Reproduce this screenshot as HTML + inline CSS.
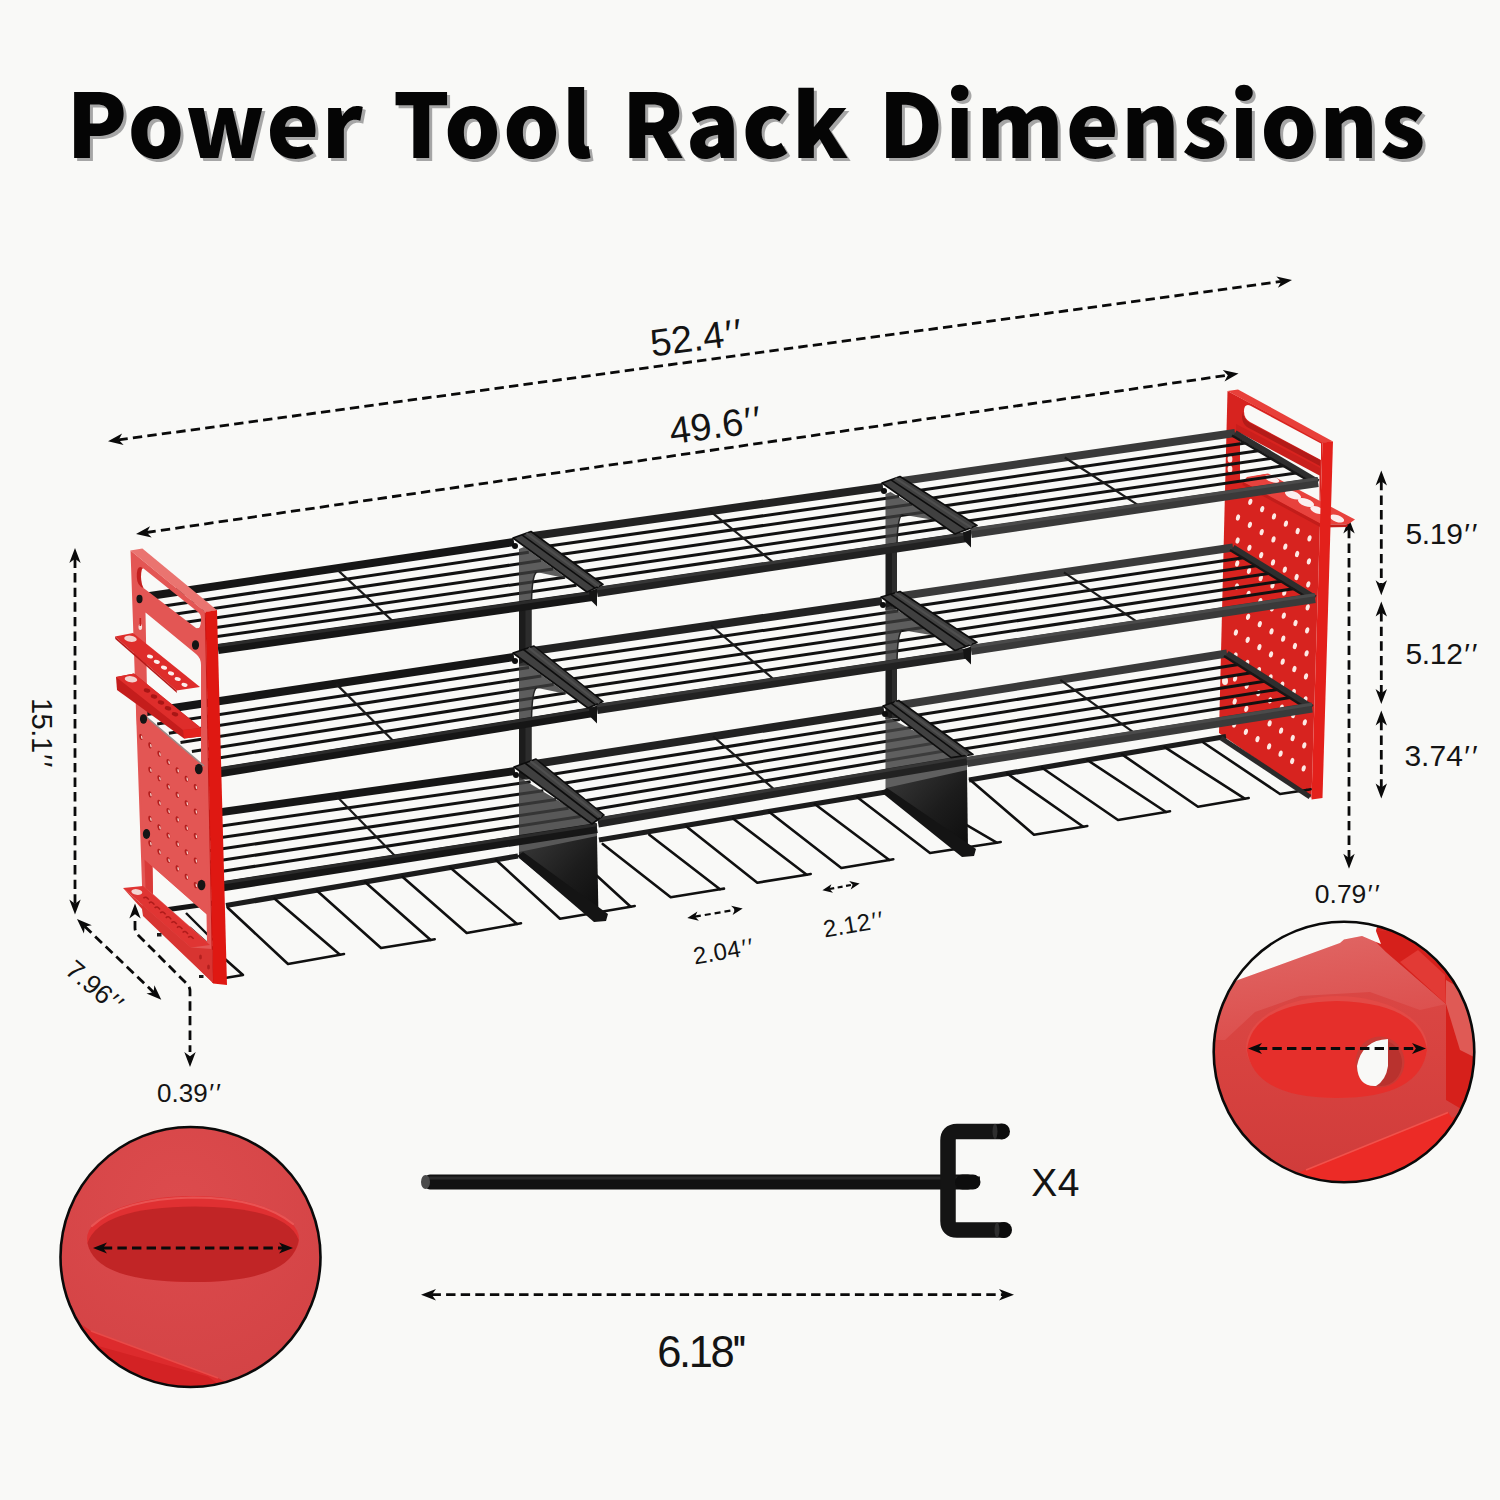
<!DOCTYPE html>
<html lang="en"><head><meta charset="utf-8"><title>Power Tool Rack Dimensions</title>
<style>
html,body{margin:0;padding:0;background:#f9f9f7;}
body{width:1500px;height:1500px;overflow:hidden;position:relative;font-family:"Liberation Sans",sans-serif;}
svg{position:absolute;left:0;top:0;display:block}
.t{font-family:"Noto Sans CJK SC","Liberation Sans",sans-serif;font-weight:900;}
.d{font-family:"Liberation Sans",sans-serif;fill:#141414;}
</style></head><body>
<svg width="1500" height="1500" viewBox="0 0 1500 1500">
<defs>
<linearGradient id="gplate" x1="0" y1="0" x2="1" y2="1"><stop offset="0" stop-color="#3a3a3a"/><stop offset="0.55" stop-color="#1c1c1c"/><stop offset="1" stop-color="#0c0c0c"/></linearGradient>
<clipPath id="cL"><circle cx="190.5" cy="1257" r="129.5"/></clipPath>
<clipPath id="cR"><circle cx="1344" cy="1052" r="129.8"/></clipPath>
<radialGradient id="gL" cx="0.45" cy="0.3" r="0.8"><stop offset="0" stop-color="#dc4b4d"/><stop offset="1" stop-color="#d24244"/></radialGradient>
<linearGradient id="gRb" x1="0" y1="0" x2="0" y2="1"><stop offset="0" stop-color="#dc4a48"/><stop offset="0.5" stop-color="#d84340"/><stop offset="1" stop-color="#cf3b3a"/></linearGradient>
<linearGradient id="gRt" x1="0" y1="0" x2="0.3" y2="1"><stop offset="0" stop-color="#e06866"/><stop offset="1" stop-color="#dc4e4c"/></linearGradient>
</defs>
<rect width="1500" height="1500" fill="#f9f9f7"/>
<text class="t" x="747.2" y="157.6" font-size="88.5" text-anchor="middle" fill="#050505" letter-spacing="2.5" word-spacing="5" style="filter:drop-shadow(3px 3.8px 0 #a6a6a6)">Power Tool Rack Dimensions</text>
<line x1="118.4" y1="439.9" x2="1281.6" y2="281.4" stroke="#0a0a0a" stroke-width="2.8" stroke-linecap="butt" stroke-dasharray="9.4 5.2"/>
<polygon points="108,441.3 122.1,433.6 118.7,439.8 123.6,444.9" fill="#0a0a0a" />
<polygon points="1292,280 1277.9,287.7 1281.3,281.5 1276.4,276.4" fill="#0a0a0a" />
<line x1="146.4" y1="532.5" x2="1228.1" y2="375.1" stroke="#0a0a0a" stroke-width="2.8" stroke-linecap="butt" stroke-dasharray="9.4 5.2"/>
<polygon points="136,534 150,526.2 146.7,532.4 151.7,537.5" fill="#0a0a0a" />
<polygon points="1238.5,373.6 1224.5,381.4 1227.8,375.2 1222.8,370.1" fill="#0a0a0a" />
<line x1="75" y1="558.5" x2="75" y2="904" stroke="#0a0a0a" stroke-width="2.8" stroke-linecap="butt" stroke-dasharray="9.4 5.2"/>
<polygon points="75,548 80.7,563 75,558.8 69.3,563" fill="#0a0a0a" />
<polygon points="75,914.5 69.3,899.5 75,903.7 80.7,899.5" fill="#0a0a0a" />
<line x1="84.6" y1="926.3" x2="153.7" y2="992.4" stroke="#0a0a0a" stroke-width="2.8" stroke-linecap="butt" stroke-dasharray="9.4 5.2"/>
<polygon points="77,919 91.8,925.3 84.8,926.5 83.9,933.5" fill="#0a0a0a" />
<polygon points="161.3,999.7 146.5,993.4 153.5,992.2 154.4,985.2" fill="#0a0a0a" />
<path d="M135,921 V928 Q135,932 138,935 L187,984 Q190,987 190,991 V1052" fill="none" stroke="#0a0a0a" stroke-width="2.8" stroke-dasharray="9.4 5.2"/>
<polygon points="135,903.5 140.7,918.5 135,914.3 129.3,918.5" fill="#0a0a0a" />
<polygon points="190,1067 184.3,1052 190,1056.2 195.7,1052" fill="#0a0a0a" />
<line x1="1381.3" y1="480.9" x2="1381.3" y2="584.7" stroke="#0a0a0a" stroke-width="2.8" stroke-linecap="butt" stroke-dasharray="9.4 5.2"/>
<polygon points="1381.3,470.4 1387,485.4 1381.3,481.2 1375.6,485.4" fill="#0a0a0a" />
<polygon points="1381.3,595.2 1375.6,580.2 1381.3,584.4 1387,580.2" fill="#0a0a0a" />
<line x1="1381.3" y1="612.1" x2="1381.3" y2="693.5" stroke="#0a0a0a" stroke-width="2.8" stroke-linecap="butt" stroke-dasharray="9.4 5.2"/>
<polygon points="1381.3,601.6 1387,616.6 1381.3,612.4 1375.6,616.6" fill="#0a0a0a" />
<polygon points="1381.3,704 1375.6,689 1381.3,693.2 1387,689" fill="#0a0a0a" />
<line x1="1381.3" y1="720.9" x2="1381.3" y2="787.9" stroke="#0a0a0a" stroke-width="2.8" stroke-linecap="butt" stroke-dasharray="9.4 5.2"/>
<polygon points="1381.3,710.4 1387,725.4 1381.3,721.2 1375.6,725.4" fill="#0a0a0a" />
<polygon points="1381.3,798.4 1375.6,783.4 1381.3,787.6 1387,783.4" fill="#0a0a0a" />
<line x1="1349" y1="528.9" x2="1349" y2="858.3" stroke="#0a0a0a" stroke-width="2.8" stroke-linecap="butt" stroke-dasharray="9.4 5.2"/>
<polygon points="1349,518.4 1354.7,533.4 1349,529.2 1343.3,533.4" fill="#0a0a0a" />
<polygon points="1349,868.8 1343.3,853.8 1349,858 1354.7,853.8" fill="#0a0a0a" />
<line x1="694.9" y1="916.7" x2="735.1" y2="909.8" stroke="#0a0a0a" stroke-width="2.2" stroke-linecap="butt" stroke-dasharray="6 4"/>
<polygon points="687.3,918 697.4,911.6 695.1,916.7 698.9,920.7" fill="#0a0a0a" />
<polygon points="742.7,908.5 732.6,914.9 734.9,909.8 731.1,905.8" fill="#0a0a0a" />
<line x1="829.3" y1="889" x2="852.8" y2="884.7" stroke="#0a0a0a" stroke-width="2.2" stroke-linecap="butt" stroke-dasharray="5 3.5"/>
<polygon points="822.4,890.3 831.4,884.2 829.5,889 833,892.8" fill="#0a0a0a" />
<polygon points="859.7,883.4 850.7,889.5 852.6,884.7 849.1,880.9" fill="#0a0a0a" />
<line x1="431.5" y1="1294.7" x2="1003.5" y2="1294.7" stroke="#0a0a0a" stroke-width="2.8" stroke-linecap="butt" stroke-dasharray="9.4 5.2"/>
<polygon points="421,1294.7 436,1289 431.8,1294.7 436,1300.4" fill="#0a0a0a" />
<polygon points="1014,1294.7 999,1300.4 1003.2,1294.7 999,1289" fill="#0a0a0a" />
<text class="d" x="698.5" y="350.6" font-size="38" text-anchor="middle" letter-spacing="0" transform="rotate(-7.2 698.5 350.6)">52.4<tspan dx="1.5" letter-spacing="2">′′</tspan></text>
<text class="d" x="717.8" y="438" font-size="38" text-anchor="middle" letter-spacing="0" transform="rotate(-7.6 717.8 438)">49.6<tspan dx="1.5" letter-spacing="2">′′</tspan></text>
<text class="d" x="31.7" y="733.5" font-size="29" text-anchor="middle" letter-spacing="-0.4" transform="rotate(90 31.7 733.5)">15.1<tspan dx="1.5" letter-spacing="2">′′</tspan></text>
<text class="d" x="89.5" y="994" font-size="26.5" text-anchor="middle" letter-spacing="0" transform="rotate(40 89.5 994)">7.96<tspan dx="1.5" letter-spacing="2">′′</tspan></text>
<text class="d" x="190" y="1102.4" font-size="26" text-anchor="middle" letter-spacing="0">0.39<tspan dx="1.5" letter-spacing="2">′′</tspan></text>
<text class="d" x="1442.4" y="544" font-size="30" text-anchor="middle" letter-spacing="-0.3">5.19<tspan dx="1.5" letter-spacing="2">′′</tspan></text>
<text class="d" x="1442.4" y="664" font-size="30" text-anchor="middle" letter-spacing="-0.3">5.12<tspan dx="1.5" letter-spacing="2">′′</tspan></text>
<text class="d" x="1442" y="765.8" font-size="30" text-anchor="middle" letter-spacing="0">3.74<tspan dx="1.5" letter-spacing="2">′′</tspan></text>
<text class="d" x="1348.3" y="903.3" font-size="26.5" text-anchor="middle" letter-spacing="0">0.79<tspan dx="1.5" letter-spacing="2">′′</tspan></text>
<text class="d" x="725.5" y="959.3" font-size="24" text-anchor="middle" letter-spacing="0.3" transform="rotate(-9.6 725.5 959.3)">2.04<tspan dx="1.5" letter-spacing="2">′′</tspan></text>
<text class="d" x="855.5" y="932.3" font-size="24" text-anchor="middle" letter-spacing="0.3" transform="rotate(-9.6 855.5 932.3)">2.12<tspan dx="1.5" letter-spacing="2">′′</tspan></text>
<text class="d" x="1055.5" y="1195.6" font-size="39" text-anchor="middle" letter-spacing="0.5">X4</text>
<text class="d" x="700.7" y="1366.7" font-size="43.5" text-anchor="middle" letter-spacing="-2.4">6.18''</text>
<polygon points="1227.5,391 1322.5,441.5 1311.5,798 1219,733" fill="#d7231f" />
<polygon points="1227.5,391 1238,389.5 1333,441.5 1322.5,443" fill="#e8403a" />
<path d="M1250,405.4 L1321,443.6 L1321,460 L1250,422 Q1244,418.5 1244,411.5 Q1244,403.5 1250,405.4 Z" fill="#f9f9f7" stroke="none" stroke-width="0" />
<path d="M1243,412 Q1243,419 1250,423 L1320,460 L1320,466 L1247,427 Q1240,421 1243,412 Z" fill="#b31b18" stroke="none" stroke-width="0" />
<polygon points="1236,424 1320,468 1320,486 1236,436" fill="#c91f1c" />
<ellipse cx="1238.4" cy="494.5" rx="2" ry="3.2" fill="#fde9e4" transform="rotate(14 1238.4 494.5)"/>
<ellipse cx="1250.3" cy="501.8" rx="2" ry="3.2" fill="#fde9e4" transform="rotate(14 1250.3 501.8)"/>
<ellipse cx="1262.2" cy="509.1" rx="2" ry="3.2" fill="#fde9e4" transform="rotate(14 1262.2 509.1)"/>
<ellipse cx="1274" cy="516.4" rx="2" ry="3.2" fill="#fde9e4" transform="rotate(14 1274 516.4)"/>
<ellipse cx="1285.9" cy="523.7" rx="2" ry="3.2" fill="#fde9e4" transform="rotate(14 1285.9 523.7)"/>
<ellipse cx="1297.7" cy="531" rx="2" ry="3.2" fill="#fde9e4" transform="rotate(14 1297.7 531)"/>
<ellipse cx="1309.5" cy="538.3" rx="2" ry="3.2" fill="#fde9e4" transform="rotate(14 1309.5 538.3)"/>
<ellipse cx="1238" cy="517.5" rx="2" ry="3.2" fill="#fde9e4" transform="rotate(14 1238 517.5)"/>
<ellipse cx="1249.9" cy="524.8" rx="2" ry="3.2" fill="#fde9e4" transform="rotate(14 1249.9 524.8)"/>
<ellipse cx="1261.7" cy="532.1" rx="2" ry="3.2" fill="#fde9e4" transform="rotate(14 1261.7 532.1)"/>
<ellipse cx="1273.5" cy="539.4" rx="2" ry="3.2" fill="#fde9e4" transform="rotate(14 1273.5 539.4)"/>
<ellipse cx="1285.3" cy="546.7" rx="2" ry="3.2" fill="#fde9e4" transform="rotate(14 1285.3 546.7)"/>
<ellipse cx="1297.1" cy="554" rx="2" ry="3.2" fill="#fde9e4" transform="rotate(14 1297.1 554)"/>
<ellipse cx="1308.9" cy="561.3" rx="2" ry="3.2" fill="#fde9e4" transform="rotate(14 1308.9 561.3)"/>
<ellipse cx="1237.6" cy="540.5" rx="2" ry="3.2" fill="#fde9e4" transform="rotate(14 1237.6 540.5)"/>
<ellipse cx="1249.4" cy="547.8" rx="2" ry="3.2" fill="#fde9e4" transform="rotate(14 1249.4 547.8)"/>
<ellipse cx="1261.2" cy="555.1" rx="2" ry="3.2" fill="#fde9e4" transform="rotate(14 1261.2 555.1)"/>
<ellipse cx="1273" cy="562.4" rx="2" ry="3.2" fill="#fde9e4" transform="rotate(14 1273 562.4)"/>
<ellipse cx="1284.8" cy="569.7" rx="2" ry="3.2" fill="#fde9e4" transform="rotate(14 1284.8 569.7)"/>
<ellipse cx="1296.6" cy="577" rx="2" ry="3.2" fill="#fde9e4" transform="rotate(14 1296.6 577)"/>
<ellipse cx="1308.3" cy="584.3" rx="2" ry="3.2" fill="#fde9e4" transform="rotate(14 1308.3 584.3)"/>
<ellipse cx="1237.2" cy="563.5" rx="2" ry="3.2" fill="#fde9e4" transform="rotate(14 1237.2 563.5)"/>
<ellipse cx="1249" cy="570.8" rx="2" ry="3.2" fill="#fde9e4" transform="rotate(14 1249 570.8)"/>
<ellipse cx="1260.8" cy="578.1" rx="2" ry="3.2" fill="#fde9e4" transform="rotate(14 1260.8 578.1)"/>
<ellipse cx="1272.5" cy="585.4" rx="2" ry="3.2" fill="#fde9e4" transform="rotate(14 1272.5 585.4)"/>
<ellipse cx="1284.3" cy="592.7" rx="2" ry="3.2" fill="#fde9e4" transform="rotate(14 1284.3 592.7)"/>
<ellipse cx="1296" cy="600" rx="2" ry="3.2" fill="#fde9e4" transform="rotate(14 1296 600)"/>
<ellipse cx="1307.7" cy="607.3" rx="2" ry="3.2" fill="#fde9e4" transform="rotate(14 1307.7 607.3)"/>
<ellipse cx="1236.8" cy="586.5" rx="2" ry="3.2" fill="#fde9e4" transform="rotate(14 1236.8 586.5)"/>
<ellipse cx="1248.5" cy="593.8" rx="2" ry="3.2" fill="#fde9e4" transform="rotate(14 1248.5 593.8)"/>
<ellipse cx="1260.3" cy="601.1" rx="2" ry="3.2" fill="#fde9e4" transform="rotate(14 1260.3 601.1)"/>
<ellipse cx="1272" cy="608.4" rx="2" ry="3.2" fill="#fde9e4" transform="rotate(14 1272 608.4)"/>
<ellipse cx="1283.8" cy="615.7" rx="2" ry="3.2" fill="#fde9e4" transform="rotate(14 1283.8 615.7)"/>
<ellipse cx="1295.5" cy="623" rx="2" ry="3.2" fill="#fde9e4" transform="rotate(14 1295.5 623)"/>
<ellipse cx="1307.2" cy="630.3" rx="2" ry="3.2" fill="#fde9e4" transform="rotate(14 1307.2 630.3)"/>
<ellipse cx="1236.3" cy="609.5" rx="2" ry="3.2" fill="#fde9e4" transform="rotate(14 1236.3 609.5)"/>
<ellipse cx="1248.1" cy="616.8" rx="2" ry="3.2" fill="#fde9e4" transform="rotate(14 1248.1 616.8)"/>
<ellipse cx="1259.8" cy="624.1" rx="2" ry="3.2" fill="#fde9e4" transform="rotate(14 1259.8 624.1)"/>
<ellipse cx="1271.5" cy="631.4" rx="2" ry="3.2" fill="#fde9e4" transform="rotate(14 1271.5 631.4)"/>
<ellipse cx="1283.2" cy="638.7" rx="2" ry="3.2" fill="#fde9e4" transform="rotate(14 1283.2 638.7)"/>
<ellipse cx="1294.9" cy="646" rx="2" ry="3.2" fill="#fde9e4" transform="rotate(14 1294.9 646)"/>
<ellipse cx="1306.6" cy="653.3" rx="2" ry="3.2" fill="#fde9e4" transform="rotate(14 1306.6 653.3)"/>
<ellipse cx="1235.9" cy="632.5" rx="2" ry="3.2" fill="#fde9e4" transform="rotate(14 1235.9 632.5)"/>
<ellipse cx="1247.7" cy="639.8" rx="2" ry="3.2" fill="#fde9e4" transform="rotate(14 1247.7 639.8)"/>
<ellipse cx="1259.4" cy="647.1" rx="2" ry="3.2" fill="#fde9e4" transform="rotate(14 1259.4 647.1)"/>
<ellipse cx="1271" cy="654.4" rx="2" ry="3.2" fill="#fde9e4" transform="rotate(14 1271 654.4)"/>
<ellipse cx="1282.7" cy="661.7" rx="2" ry="3.2" fill="#fde9e4" transform="rotate(14 1282.7 661.7)"/>
<ellipse cx="1294.4" cy="669" rx="2" ry="3.2" fill="#fde9e4" transform="rotate(14 1294.4 669)"/>
<ellipse cx="1306" cy="676.3" rx="2" ry="3.2" fill="#fde9e4" transform="rotate(14 1306 676.3)"/>
<ellipse cx="1235.5" cy="655.5" rx="2" ry="3.2" fill="#fde9e4" transform="rotate(14 1235.5 655.5)"/>
<ellipse cx="1247.2" cy="662.8" rx="2" ry="3.2" fill="#fde9e4" transform="rotate(14 1247.2 662.8)"/>
<ellipse cx="1258.9" cy="670.1" rx="2" ry="3.2" fill="#fde9e4" transform="rotate(14 1258.9 670.1)"/>
<ellipse cx="1270.5" cy="677.4" rx="2" ry="3.2" fill="#fde9e4" transform="rotate(14 1270.5 677.4)"/>
<ellipse cx="1282.2" cy="684.7" rx="2" ry="3.2" fill="#fde9e4" transform="rotate(14 1282.2 684.7)"/>
<ellipse cx="1293.8" cy="692" rx="2" ry="3.2" fill="#fde9e4" transform="rotate(14 1293.8 692)"/>
<ellipse cx="1305.4" cy="699.3" rx="2" ry="3.2" fill="#fde9e4" transform="rotate(14 1305.4 699.3)"/>
<ellipse cx="1235.1" cy="678.5" rx="2" ry="3.2" fill="#fde9e4" transform="rotate(14 1235.1 678.5)"/>
<ellipse cx="1246.8" cy="685.8" rx="2" ry="3.2" fill="#fde9e4" transform="rotate(14 1246.8 685.8)"/>
<ellipse cx="1258.4" cy="693.1" rx="2" ry="3.2" fill="#fde9e4" transform="rotate(14 1258.4 693.1)"/>
<ellipse cx="1270" cy="700.4" rx="2" ry="3.2" fill="#fde9e4" transform="rotate(14 1270 700.4)"/>
<ellipse cx="1281.7" cy="707.7" rx="2" ry="3.2" fill="#fde9e4" transform="rotate(14 1281.7 707.7)"/>
<ellipse cx="1293.3" cy="715" rx="2" ry="3.2" fill="#fde9e4" transform="rotate(14 1293.3 715)"/>
<ellipse cx="1304.8" cy="722.3" rx="2" ry="3.2" fill="#fde9e4" transform="rotate(14 1304.8 722.3)"/>
<ellipse cx="1234.7" cy="701.5" rx="2" ry="3.2" fill="#fde9e4" transform="rotate(14 1234.7 701.5)"/>
<ellipse cx="1246.3" cy="708.8" rx="2" ry="3.2" fill="#fde9e4" transform="rotate(14 1246.3 708.8)"/>
<ellipse cx="1257.9" cy="716.1" rx="2" ry="3.2" fill="#fde9e4" transform="rotate(14 1257.9 716.1)"/>
<ellipse cx="1269.6" cy="723.4" rx="2" ry="3.2" fill="#fde9e4" transform="rotate(14 1269.6 723.4)"/>
<ellipse cx="1281.1" cy="730.7" rx="2" ry="3.2" fill="#fde9e4" transform="rotate(14 1281.1 730.7)"/>
<ellipse cx="1292.7" cy="738" rx="2" ry="3.2" fill="#fde9e4" transform="rotate(14 1292.7 738)"/>
<ellipse cx="1304.3" cy="745.3" rx="2" ry="3.2" fill="#fde9e4" transform="rotate(14 1304.3 745.3)"/>
<ellipse cx="1234.3" cy="724.5" rx="2" ry="3.2" fill="#fde9e4" transform="rotate(14 1234.3 724.5)"/>
<ellipse cx="1245.9" cy="731.8" rx="2" ry="3.2" fill="#fde9e4" transform="rotate(14 1245.9 731.8)"/>
<ellipse cx="1257.5" cy="739.1" rx="2" ry="3.2" fill="#fde9e4" transform="rotate(14 1257.5 739.1)"/>
<ellipse cx="1269.1" cy="746.4" rx="2" ry="3.2" fill="#fde9e4" transform="rotate(14 1269.1 746.4)"/>
<ellipse cx="1280.6" cy="753.7" rx="2" ry="3.2" fill="#fde9e4" transform="rotate(14 1280.6 753.7)"/>
<ellipse cx="1292.2" cy="761" rx="2" ry="3.2" fill="#fde9e4" transform="rotate(14 1292.2 761)"/>
<ellipse cx="1303.7" cy="768.3" rx="2" ry="3.2" fill="#fde9e4" transform="rotate(14 1303.7 768.3)"/>
<ellipse cx="1230" cy="459" rx="2.4" ry="3.6" fill="#fde9e4"/><ellipse cx="1230" cy="469" rx="2.4" ry="3.6" fill="#fde9e4"/>
<ellipse cx="1225" cy="681" rx="3" ry="4" fill="#fde9e4"/>
<polygon points="1240,433 1319.5,475.5 1319.5,503 1266,474 1250,477 1240,482" fill="#f9f9f7" />
<polygon points="1247,477 1268,473.5 1355,519.5 1348,524.5 1322,524.5 1243,482" fill="#e8423d" />
<polygon points="1243,482 1322,524.5 1348,524.5 1347,527 1321,527.5 1242.5,485" fill="#c21d1a" />
<ellipse cx="1272" cy="479" rx="7.5" ry="3" fill="#fbeeee" transform="rotate(20 1272 479)"/>
<ellipse cx="1293" cy="495" rx="8.5" ry="3.7" fill="#fbeeee" transform="rotate(20 1293 495)"/>
<ellipse cx="1306" cy="502.5" rx="8.5" ry="3.7" fill="#fbeeee" transform="rotate(20 1306 502.5)"/>
<ellipse cx="1317" cy="510" rx="7" ry="3.4" fill="#fbeeee" transform="rotate(20 1317 510)"/>
<ellipse cx="1337" cy="518.5" rx="7.5" ry="3.4" fill="#fbeeee" transform="rotate(20 1337 518.5)"/>
<line x1="143" y1="597" x2="514" y2="542" stroke="#161616" stroke-width="8" stroke-linecap="butt" />
<line x1="157.2" y1="606.9" x2="528.8" y2="552.3" stroke="#111111" stroke-width="3.0" stroke-linecap="butt" />
<line x1="168.9" y1="614.9" x2="540.9" y2="560.6" stroke="#111111" stroke-width="3.0" stroke-linecap="butt" />
<line x1="180.5" y1="623" x2="553" y2="569" stroke="#111111" stroke-width="3.0" stroke-linecap="butt" />
<line x1="191.9" y1="630.9" x2="564.9" y2="577.2" stroke="#111111" stroke-width="3.0" stroke-linecap="butt" />
<line x1="203" y1="638.6" x2="576.4" y2="585.2" stroke="#111111" stroke-width="3.0" stroke-linecap="butt" />
<line x1="335.9" y1="568.4" x2="395.6" y2="623.8" stroke="#1a1a1a" stroke-width="2.2" stroke-linecap="butt" />
<line x1="533" y1="536" x2="883" y2="487" stroke="#222222" stroke-width="8" stroke-linecap="butt" />
<line x1="545.2" y1="546.6" x2="899" y2="496.5" stroke="#111111" stroke-width="3.0" stroke-linecap="butt" />
<line x1="555.1" y1="555.3" x2="912" y2="504.2" stroke="#111111" stroke-width="3.0" stroke-linecap="butt" />
<line x1="565" y1="564" x2="925" y2="512" stroke="#111111" stroke-width="3.0" stroke-linecap="butt" />
<line x1="574.7" y1="572.5" x2="937.8" y2="519.6" stroke="#111111" stroke-width="3.0" stroke-linecap="butt" />
<line x1="584.2" y1="580.8" x2="950.2" y2="527" stroke="#111111" stroke-width="3.0" stroke-linecap="butt" />
<line x1="710.1" y1="511.2" x2="776.8" y2="565.3" stroke="#1a1a1a" stroke-width="2.2" stroke-linecap="butt" />
<line x1="902" y1="481" x2="1235" y2="433" stroke="#3a3a3a" stroke-width="8" stroke-linecap="butt" />
<line x1="915.1" y1="490.9" x2="1250.8" y2="442.3" stroke="#111111" stroke-width="3.0" stroke-linecap="butt" />
<line x1="925.8" y1="498.9" x2="1263.6" y2="449.9" stroke="#111111" stroke-width="3.0" stroke-linecap="butt" />
<line x1="936.5" y1="507" x2="1276.5" y2="457.5" stroke="#111111" stroke-width="3.0" stroke-linecap="butt" />
<line x1="947" y1="514.9" x2="1289.1" y2="464.9" stroke="#111111" stroke-width="3.0" stroke-linecap="butt" />
<line x1="957.2" y1="522.6" x2="1301.4" y2="472.2" stroke="#111111" stroke-width="3.0" stroke-linecap="butt" />
<line x1="1064.8" y1="457.5" x2="1142.4" y2="507.8" stroke="#1a1a1a" stroke-width="2.2" stroke-linecap="butt" />
<line x1="143" y1="712.5" x2="514" y2="657" stroke="#161616" stroke-width="8" stroke-linecap="butt" />
<line x1="157.2" y1="723.9" x2="529" y2="667.5" stroke="#111111" stroke-width="3.0" stroke-linecap="butt" />
<line x1="168.9" y1="733.2" x2="541.3" y2="676" stroke="#111111" stroke-width="3.0" stroke-linecap="butt" />
<line x1="180.5" y1="742.5" x2="553.5" y2="684.5" stroke="#111111" stroke-width="3.0" stroke-linecap="butt" />
<line x1="191.9" y1="751.6" x2="565.5" y2="692.9" stroke="#111111" stroke-width="3.0" stroke-linecap="butt" />
<line x1="203" y1="760.5" x2="577.2" y2="701" stroke="#111111" stroke-width="3.0" stroke-linecap="butt" />
<line x1="335.9" y1="683.6" x2="396.1" y2="743.8" stroke="#1a1a1a" stroke-width="2.2" stroke-linecap="butt" />
<line x1="536" y1="650.5" x2="882" y2="601" stroke="#222222" stroke-width="8" stroke-linecap="butt" />
<line x1="547.6" y1="661.6" x2="898.1" y2="611" stroke="#111111" stroke-width="3.0" stroke-linecap="butt" />
<line x1="557" y1="670.7" x2="911.3" y2="619.1" stroke="#111111" stroke-width="3.0" stroke-linecap="butt" />
<line x1="566.5" y1="679.8" x2="924.5" y2="627.2" stroke="#111111" stroke-width="3.0" stroke-linecap="butt" />
<line x1="575.8" y1="688.6" x2="937.4" y2="635.2" stroke="#111111" stroke-width="3.0" stroke-linecap="butt" />
<line x1="584.8" y1="697.3" x2="950" y2="643" stroke="#111111" stroke-width="3.0" stroke-linecap="butt" />
<line x1="711.1" y1="625.5" x2="776.8" y2="682" stroke="#1a1a1a" stroke-width="2.2" stroke-linecap="butt" />
<line x1="902" y1="596" x2="1233" y2="547.5" stroke="#3a3a3a" stroke-width="8" stroke-linecap="butt" />
<line x1="915.1" y1="606.3" x2="1248.6" y2="557.1" stroke="#111111" stroke-width="3.0" stroke-linecap="butt" />
<line x1="925.8" y1="614.6" x2="1261.3" y2="564.9" stroke="#111111" stroke-width="3.0" stroke-linecap="butt" />
<line x1="936.5" y1="623" x2="1274" y2="572.8" stroke="#111111" stroke-width="3.0" stroke-linecap="butt" />
<line x1="947" y1="631.2" x2="1286.5" y2="580.4" stroke="#111111" stroke-width="3.0" stroke-linecap="butt" />
<line x1="957.2" y1="639.2" x2="1298.6" y2="587.9" stroke="#111111" stroke-width="3.0" stroke-linecap="butt" />
<line x1="1063.9" y1="572.3" x2="1140.9" y2="624.3" stroke="#1a1a1a" stroke-width="2.2" stroke-linecap="butt" />
<line x1="143" y1="823" x2="515" y2="771" stroke="#161616" stroke-width="8" stroke-linecap="butt" />
<line x1="157.2" y1="835.2" x2="530.6" y2="781.8" stroke="#111111" stroke-width="3.0" stroke-linecap="butt" />
<line x1="168.9" y1="845.1" x2="543.3" y2="790.7" stroke="#111111" stroke-width="3.0" stroke-linecap="butt" />
<line x1="180.5" y1="855" x2="556" y2="799.5" stroke="#111111" stroke-width="3.0" stroke-linecap="butt" />
<line x1="191.9" y1="864.7" x2="568.5" y2="808.2" stroke="#111111" stroke-width="3.0" stroke-linecap="butt" />
<line x1="203" y1="874.2" x2="580.6" y2="816.6" stroke="#111111" stroke-width="3.0" stroke-linecap="butt" />
<line x1="336.4" y1="796" x2="398" y2="859" stroke="#1a1a1a" stroke-width="2.2" stroke-linecap="butt" />
<line x1="538" y1="763.5" x2="884" y2="710" stroke="#222222" stroke-width="8" stroke-linecap="butt" />
<line x1="549.4" y1="774.7" x2="899.8" y2="719.5" stroke="#111111" stroke-width="3.0" stroke-linecap="butt" />
<line x1="558.7" y1="783.9" x2="912.6" y2="727.2" stroke="#111111" stroke-width="3.0" stroke-linecap="butt" />
<line x1="568" y1="793" x2="925.5" y2="735" stroke="#111111" stroke-width="3.0" stroke-linecap="butt" />
<line x1="577.1" y1="802" x2="938.1" y2="742.6" stroke="#111111" stroke-width="3.0" stroke-linecap="butt" />
<line x1="586" y1="810.7" x2="950.4" y2="750" stroke="#111111" stroke-width="3.0" stroke-linecap="butt" />
<line x1="713.1" y1="736.4" x2="777.3" y2="792.1" stroke="#1a1a1a" stroke-width="2.2" stroke-linecap="butt" />
<line x1="900.7" y1="705" x2="1227" y2="653.5" stroke="#3a3a3a" stroke-width="8" stroke-linecap="butt" />
<line x1="913.3" y1="715.8" x2="1243.2" y2="663.8" stroke="#111111" stroke-width="3.0" stroke-linecap="butt" />
<line x1="923.6" y1="724.7" x2="1256.3" y2="672.1" stroke="#111111" stroke-width="3.0" stroke-linecap="butt" />
<line x1="933.9" y1="733.5" x2="1269.5" y2="680.5" stroke="#111111" stroke-width="3.0" stroke-linecap="butt" />
<line x1="943.9" y1="742.2" x2="1282.4" y2="688.7" stroke="#111111" stroke-width="3.0" stroke-linecap="butt" />
<line x1="953.7" y1="750.6" x2="1295" y2="696.7" stroke="#111111" stroke-width="3.0" stroke-linecap="butt" />
<line x1="1060.3" y1="679.8" x2="1137.4" y2="735.1" stroke="#1a1a1a" stroke-width="2.2" stroke-linecap="butt" />
<line x1="1235" y1="433" x2="1318" y2="482" stroke="#2e2e2e" stroke-width="6" stroke-linecap="butt" />
<line x1="1232" y1="435.5" x2="1315" y2="484.5" stroke="#161616" stroke-width="2.5" stroke-linecap="butt" />
<line x1="1233" y1="547.5" x2="1315" y2="598" stroke="#2e2e2e" stroke-width="6" stroke-linecap="butt" />
<line x1="1230" y1="550" x2="1312" y2="600.5" stroke="#161616" stroke-width="2.5" stroke-linecap="butt" />
<line x1="1227" y1="653.5" x2="1312" y2="707.5" stroke="#2e2e2e" stroke-width="6" stroke-linecap="butt" />
<line x1="1224" y1="656" x2="1309" y2="710" stroke="#161616" stroke-width="2.5" stroke-linecap="butt" />
<polygon points="519,602.5 531.5,601.5 531.5,665 519,666" fill="#1c1c1c" />
<polygon points="525.5,602 531.5,601.5 531.5,665 525.5,665.5" fill="#2c2c2c" />
<path d="M519,549 L524,547 L566.9,578.6 L536.5,572.1 Q532,575.6 531.5,602.5 L519,603.5 Z" fill="#3a3a3a" stroke="none" stroke-width="0" opacity="0.82"/>
<path d="M536.5,572.1 Q532,575.6 531.5,602.5" fill="none" stroke="#222" stroke-width="1.5" />
<polygon points="519,719.9 531.5,718.9 531.5,779 519,780" fill="#1c1c1c" />
<polygon points="525.5,719.4 531.5,718.9 531.5,779 525.5,779.5" fill="#2c2c2c" />
<path d="M519,664 L524,662 L567.6,694.2 L536.5,687.7 Q532,691.2 531.5,719.9 L519,720.9 Z" fill="#3a3a3a" stroke="none" stroke-width="0" opacity="0.82"/>
<path d="M536.5,687.7 Q532,691.2 531.5,719.9" fill="none" stroke="#222" stroke-width="1.5" />
<polygon points="885.5,545.3 897,544.3 897,609 885.5,610" fill="#1c1c1c" />
<polygon points="892,544.8 897,544.3 897,609 892,609.5" fill="#2c2c2c" />
<path d="M885.5,494 L890.5,492 L939.8,521 L902,514.5 Q897.5,518 897,545.3 L885.5,546.3 Z" fill="#3a3a3a" stroke="none" stroke-width="0" opacity="0.82"/>
<path d="M902,514.5 Q897.5,518 897,545.3" fill="none" stroke="#222" stroke-width="1.5" />
<polygon points="885.5,661.9 897,660.9 897,718 885.5,719" fill="#1c1c1c" />
<polygon points="892,661.4 897,660.9 897,718 892,718.5" fill="#2c2c2c" />
<path d="M885.5,608 L890.5,606 L939.4,636.6 L902,630.1 Q897.5,633.6 897,661.9 L885.5,662.9 Z" fill="#3a3a3a" stroke="none" stroke-width="0" opacity="0.82"/>
<path d="M902,630.1 Q897.5,633.6 897,661.9" fill="none" stroke="#222" stroke-width="1.5" />
<polygon points="519,777 597,824 597,838 519,856" fill="#3c3c3c" opacity="0.85"/>
<polygon points="885.5,716 967,758 967,772 885.5,792" fill="#444444" opacity="0.85"/>
<line x1="218" y1="649" x2="592" y2="596" stroke="#161616" stroke-width="10" stroke-linecap="butt" />
<line x1="218" y1="645.8" x2="592" y2="592.8" stroke="#2b2b2b" stroke-width="3" stroke-linecap="butt" />
<line x1="597" y1="592" x2="967" y2="537" stroke="#222222" stroke-width="10" stroke-linecap="butt" />
<line x1="597" y1="588.8" x2="967" y2="533.8" stroke="#363636" stroke-width="3" stroke-linecap="butt" />
<line x1="971" y1="533" x2="1318" y2="482" stroke="#3a3a3a" stroke-width="10" stroke-linecap="butt" />
<line x1="971" y1="529.8" x2="1318" y2="478.8" stroke="#4a4a4a" stroke-width="3" stroke-linecap="butt" />
<line x1="218" y1="772.5" x2="593" y2="712" stroke="#161616" stroke-width="10" stroke-linecap="butt" />
<line x1="218" y1="769.3" x2="593" y2="708.8" stroke="#2b2b2b" stroke-width="3" stroke-linecap="butt" />
<line x1="597" y1="709" x2="967" y2="653.5" stroke="#222222" stroke-width="10" stroke-linecap="butt" />
<line x1="597" y1="705.8" x2="967" y2="650.3" stroke="#363636" stroke-width="3" stroke-linecap="butt" />
<line x1="971" y1="650" x2="1315" y2="598" stroke="#3a3a3a" stroke-width="10" stroke-linecap="butt" />
<line x1="971" y1="646.8" x2="1315" y2="594.8" stroke="#4a4a4a" stroke-width="3" stroke-linecap="butt" />
<line x1="218" y1="887" x2="597" y2="828" stroke="#161616" stroke-width="10" stroke-linecap="butt" />
<line x1="218" y1="883.8" x2="597" y2="824.8" stroke="#2b2b2b" stroke-width="3" stroke-linecap="butt" />
<line x1="598" y1="822.5" x2="967" y2="760" stroke="#222222" stroke-width="10" stroke-linecap="butt" />
<line x1="598" y1="819.3" x2="967" y2="756.8" stroke="#363636" stroke-width="3" stroke-linecap="butt" />
<line x1="967" y1="762" x2="1312" y2="707.5" stroke="#3a3a3a" stroke-width="10" stroke-linecap="butt" />
<line x1="967" y1="758.8" x2="1312" y2="704.3" stroke="#4a4a4a" stroke-width="3" stroke-linecap="butt" />
<polygon points="589,591.5 597,588.5 597,606.5 590,599.5" fill="#141414" />
<polygon points="513,538 531,531.5 603,584.5 587,592" fill="#404040" stroke="#0d0d0d" stroke-width="1.6" stroke-linejoin="round"/>
<line x1="522" y1="534.8" x2="595" y2="588.2" stroke="#0d0d0d" stroke-width="1.6" stroke-linecap="butt" />
<line x1="526.5" y1="533.1" x2="599" y2="586.4" stroke="#4e4e4e" stroke-width="2.2" stroke-linecap="butt" />
<circle cx="515" cy="546" r="3" fill="#0d0d0d"/>
<polygon points="963,532.5 971,529.5 971,547.5 964,540.5" fill="#141414" />
<polygon points="882,483 900,476.5 977,525.5 955,534" fill="#404040" stroke="#0d0d0d" stroke-width="1.6" stroke-linejoin="round"/>
<line x1="891" y1="479.8" x2="966" y2="529.8" stroke="#0d0d0d" stroke-width="1.6" stroke-linecap="butt" />
<line x1="895.5" y1="478.1" x2="971.5" y2="527.6" stroke="#4e4e4e" stroke-width="2.2" stroke-linecap="butt" />
<circle cx="884" cy="491" r="3" fill="#0d0d0d"/>
<polygon points="589,708.5 597,705.5 597,723.5 590,716.5" fill="#141414" />
<polygon points="513,653 534,646 603,701.5 588,708" fill="#404040" stroke="#0d0d0d" stroke-width="1.6" stroke-linejoin="round"/>
<line x1="523.5" y1="649.5" x2="595.5" y2="704.8" stroke="#0d0d0d" stroke-width="1.6" stroke-linecap="butt" />
<line x1="528.8" y1="647.8" x2="599.2" y2="703.1" stroke="#4e4e4e" stroke-width="2.2" stroke-linecap="butt" />
<circle cx="515" cy="661" r="3" fill="#0d0d0d"/>
<polygon points="963,649.5 971,646.5 971,664.5 964,657.5" fill="#141414" />
<polygon points="881,597 900,591.5 977,642.5 955,650.5" fill="#404040" stroke="#0d0d0d" stroke-width="1.6" stroke-linejoin="round"/>
<line x1="890.5" y1="594.2" x2="966" y2="646.5" stroke="#0d0d0d" stroke-width="1.6" stroke-linecap="butt" />
<line x1="895.2" y1="592.9" x2="971.5" y2="644.5" stroke="#4e4e4e" stroke-width="2.2" stroke-linecap="butt" />
<circle cx="883" cy="605" r="3" fill="#0d0d0d"/>
<polygon points="514,767 536,759 604,815 592,824" fill="#404040" stroke="#0d0d0d" stroke-width="1.6" stroke-linejoin="round"/>
<line x1="525" y1="763" x2="598" y2="819.5" stroke="#0d0d0d" stroke-width="1.6" stroke-linecap="butt" />
<line x1="530.5" y1="761" x2="601" y2="817.2" stroke="#4e4e4e" stroke-width="2.2" stroke-linecap="butt" />
<circle cx="516" cy="775" r="3" fill="#0d0d0d"/>
<polygon points="883,706 898.7,700.5 973,754.5 951,757.6" fill="#404040" stroke="#0d0d0d" stroke-width="1.6" stroke-linejoin="round"/>
<line x1="890.9" y1="703.2" x2="962" y2="756.1" stroke="#0d0d0d" stroke-width="1.6" stroke-linecap="butt" />
<line x1="894.8" y1="701.9" x2="967.5" y2="755.3" stroke="#4e4e4e" stroke-width="2.2" stroke-linecap="butt" />
<circle cx="885" cy="714" r="3" fill="#0d0d0d"/>
<line x1="226" y1="905.5" x2="518" y2="856" stroke="#1c1c1c" stroke-width="5.2" stroke-linecap="butt" />
<line x1="599" y1="840" x2="886" y2="792" stroke="#1c1c1c" stroke-width="5.2" stroke-linecap="butt" />
<line x1="969" y1="780" x2="1226" y2="736.5" stroke="#1c1c1c" stroke-width="5.2" stroke-linecap="butt" />
<path d="M228,908 L288,964 L340,954.7 L274.7,898.7" fill="none" stroke="#101010" stroke-width="2.6" stroke-linejoin="round" stroke-linecap="round"/>
<line x1="340" y1="954.7" x2="344" y2="954" stroke="#101010" stroke-width="2.6" stroke-linecap="round" />
<path d="M317,890.7 L381,948 L430.7,940 L365,882" fill="none" stroke="#101010" stroke-width="2.6" stroke-linejoin="round" stroke-linecap="round"/>
<line x1="430.7" y1="940" x2="434.7" y2="939.3" stroke="#101010" stroke-width="2.6" stroke-linecap="round" />
<path d="M402.7,877 L466.7,933 L517,924 L450.7,868" fill="none" stroke="#101010" stroke-width="2.6" stroke-linejoin="round" stroke-linecap="round"/>
<line x1="517" y1="924" x2="521" y2="923.3" stroke="#101010" stroke-width="2.6" stroke-linecap="round" />
<path d="M496,860 L560,918.7 L630.7,906.7 L572,853" fill="none" stroke="#101010" stroke-width="2.6" stroke-linejoin="round" stroke-linecap="round"/>
<line x1="630.7" y1="906.7" x2="634.7" y2="906" stroke="#101010" stroke-width="2.6" stroke-linecap="round" />
<path d="M602.7,844 L670.7,897.3 L720,889.3 L649.3,834.7" fill="none" stroke="#101010" stroke-width="2.6" stroke-linejoin="round" stroke-linecap="round"/>
<line x1="720" y1="889.3" x2="724" y2="888.6" stroke="#101010" stroke-width="2.6" stroke-linecap="round" />
<path d="M686.7,826.7 L757.3,882.7 L806.7,874.7 L733.3,818.7" fill="none" stroke="#101010" stroke-width="2.6" stroke-linejoin="round" stroke-linecap="round"/>
<line x1="806.7" y1="874.7" x2="810.7" y2="874" stroke="#101010" stroke-width="2.6" stroke-linecap="round" />
<path d="M769.3,812 L841.3,868 L889.3,860 L814.7,804" fill="none" stroke="#101010" stroke-width="2.6" stroke-linejoin="round" stroke-linecap="round"/>
<line x1="889.3" y1="860" x2="893.3" y2="859.3" stroke="#101010" stroke-width="2.6" stroke-linecap="round" />
<path d="M857.3,797.3 L930,853 L996.7,842.7 L905,789" fill="none" stroke="#101010" stroke-width="2.6" stroke-linejoin="round" stroke-linecap="round"/>
<line x1="996.7" y1="842.7" x2="1000.7" y2="842" stroke="#101010" stroke-width="2.6" stroke-linecap="round" />
<path d="M970,779.7 L1034,834.7 L1083.3,826.7 L1007.3,773.6" fill="none" stroke="#101010" stroke-width="2.6" stroke-linejoin="round" stroke-linecap="round"/>
<line x1="1083.3" y1="826.7" x2="1087.3" y2="826" stroke="#101010" stroke-width="2.6" stroke-linecap="round" />
<path d="M1042,767.7 L1118,820 L1166,812 L1087.3,760" fill="none" stroke="#101010" stroke-width="2.6" stroke-linejoin="round" stroke-linecap="round"/>
<line x1="1166" y1="812" x2="1170" y2="811.3" stroke="#101010" stroke-width="2.6" stroke-linecap="round" />
<path d="M1122,754.4 L1198,806.7 L1244.7,798.7 L1164.7,747.2" fill="none" stroke="#101010" stroke-width="2.6" stroke-linejoin="round" stroke-linecap="round"/>
<line x1="1244.7" y1="798.7" x2="1248.7" y2="798" stroke="#101010" stroke-width="2.6" stroke-linecap="round" />
<path d="M1203.3,742.5 L1280,794 L1306.7,790 L1306.7,790" fill="none" stroke="#101010" stroke-width="2.6" stroke-linejoin="round" stroke-linecap="round"/>
<line x1="1306.7" y1="790" x2="1310.7" y2="789.3" stroke="#101010" stroke-width="2.6" stroke-linecap="round" />
<line x1="158" y1="911" x2="214" y2="903" stroke="#151515" stroke-width="5" stroke-linecap="butt" />
<line x1="186" y1="913" x2="213" y2="940" stroke="#101010" stroke-width="2.4" stroke-linecap="butt" />
<path d="M190,928 L243,975 L222,978.5" fill="none" stroke="#101010" stroke-width="2.6" stroke-linejoin="round" stroke-linecap="round"/>
<polygon points="519,852 597,836 598.5,917 595,920 519,858" fill="url(#gplate)" />
<polygon points="517,856 523,852 608,914 606,921 594,922" fill="#141414" />
<polygon points="886,788 967,770 968,851 964,854 886,794" fill="url(#gplate)" />
<polygon points="881,792 887,788 976,849 974,856 962,857" fill="#141414" />
<line x1="1221" y1="738" x2="1310" y2="797" stroke="#2a2a2a" stroke-width="5" stroke-linecap="butt" />
<polygon points="1322.5,442.5 1333,441.5 1322.5,798 1311.5,799.5" fill="#e3201b" />
<path d="M130.5,550.5 L205.5,612 L213,983 L143,914 Z M143.5,568.5 L198.5,612.5 Q201.5,615 201,621 Q200.5,630 196,628 L143.5,588 Q141,584 141,577 Q141,567 143.5,568.5 Z M145.5,612.5 L196,654 Q201,658 201,665 L201,763.4 L147.5,717.8 Z M152.5,866.5 L206.5,914 L207,941.5 L153,894 Z" fill="#e35654" stroke="none" stroke-width="0" fill-rule="evenodd"/>
<path d="M143.5,568.5 Q136.5,563 136.8,577 Q137,586 143.5,588 Q141,584 141,577 Q141,567 143.5,568.5 Z" fill="#c3201f" stroke="none" stroke-width="0" />
<polygon points="130.4,550.4 142.4,548.6 216.8,610 205.5,612.3" fill="#ea7470" />
<polygon points="205.5,612 217,610 227,985 213,983.5" fill="#df1812" />
<line x1="205.3" y1="613" x2="212.8" y2="983" stroke="#c91613" stroke-width="1" stroke-linecap="butt" />
<ellipse cx="140.3" cy="627" rx="1.8" ry="3" fill="#f5dcd8"/><rect x="139.5" y="618" width="1.6" height="8" fill="#c3201f"/>
<polygon points="144.5,859.5 152.5,866.5 153,894 145.5,888" fill="#d93a38" />
<polygon points="136,708 204,766 208.5,916 144.5,859.5" fill="#e35654" />
<line x1="147" y1="717.5" x2="204" y2="766" stroke="#9a8a88" stroke-width="1.5" stroke-linecap="butt" />
<ellipse cx="141" cy="737" rx="1.7" ry="3.1" fill="#b31f1e" transform="rotate(-12 141 737)"/>
<ellipse cx="141.7" cy="737.5" rx="0.7" ry="1.9" fill="#f4cfc9" transform="rotate(-12 141 737)"/>
<ellipse cx="150.1" cy="745.4" rx="1.7" ry="3.1" fill="#b31f1e" transform="rotate(-12 150.1 745.4)"/>
<ellipse cx="150.8" cy="745.9" rx="0.7" ry="1.9" fill="#f4cfc9" transform="rotate(-12 150.1 745.4)"/>
<ellipse cx="159.2" cy="753.7" rx="1.7" ry="3.1" fill="#b31f1e" transform="rotate(-12 159.2 753.7)"/>
<ellipse cx="159.9" cy="754.2" rx="0.7" ry="1.9" fill="#f4cfc9" transform="rotate(-12 159.2 753.7)"/>
<ellipse cx="168.3" cy="762" rx="1.7" ry="3.1" fill="#b31f1e" transform="rotate(-12 168.3 762)"/>
<ellipse cx="169" cy="762.5" rx="0.7" ry="1.9" fill="#f4cfc9" transform="rotate(-12 168.3 762)"/>
<ellipse cx="177.4" cy="770.4" rx="1.7" ry="3.1" fill="#b31f1e" transform="rotate(-12 177.4 770.4)"/>
<ellipse cx="178.1" cy="770.9" rx="0.7" ry="1.9" fill="#f4cfc9" transform="rotate(-12 177.4 770.4)"/>
<ellipse cx="186.5" cy="778.8" rx="1.7" ry="3.1" fill="#b31f1e" transform="rotate(-12 186.5 778.8)"/>
<ellipse cx="187.2" cy="779.2" rx="0.7" ry="1.9" fill="#f4cfc9" transform="rotate(-12 186.5 778.8)"/>
<ellipse cx="195.6" cy="787.1" rx="1.7" ry="3.1" fill="#b31f1e" transform="rotate(-12 195.6 787.1)"/>
<ellipse cx="196.3" cy="787.6" rx="0.7" ry="1.9" fill="#f4cfc9" transform="rotate(-12 195.6 787.1)"/>
<ellipse cx="150.1" cy="769.9" rx="1.7" ry="3.1" fill="#b31f1e" transform="rotate(-12 150.1 769.9)"/>
<ellipse cx="150.8" cy="770.4" rx="0.7" ry="1.9" fill="#f4cfc9" transform="rotate(-12 150.1 769.9)"/>
<ellipse cx="159.2" cy="778.2" rx="1.7" ry="3.1" fill="#b31f1e" transform="rotate(-12 159.2 778.2)"/>
<ellipse cx="159.9" cy="778.7" rx="0.7" ry="1.9" fill="#f4cfc9" transform="rotate(-12 159.2 778.2)"/>
<ellipse cx="168.3" cy="786.5" rx="1.7" ry="3.1" fill="#b31f1e" transform="rotate(-12 168.3 786.5)"/>
<ellipse cx="169" cy="787" rx="0.7" ry="1.9" fill="#f4cfc9" transform="rotate(-12 168.3 786.5)"/>
<ellipse cx="177.4" cy="794.9" rx="1.7" ry="3.1" fill="#b31f1e" transform="rotate(-12 177.4 794.9)"/>
<ellipse cx="178.1" cy="795.4" rx="0.7" ry="1.9" fill="#f4cfc9" transform="rotate(-12 177.4 794.9)"/>
<ellipse cx="186.5" cy="803.2" rx="1.7" ry="3.1" fill="#b31f1e" transform="rotate(-12 186.5 803.2)"/>
<ellipse cx="187.2" cy="803.8" rx="0.7" ry="1.9" fill="#f4cfc9" transform="rotate(-12 186.5 803.2)"/>
<ellipse cx="195.6" cy="811.6" rx="1.7" ry="3.1" fill="#b31f1e" transform="rotate(-12 195.6 811.6)"/>
<ellipse cx="196.3" cy="812.1" rx="0.7" ry="1.9" fill="#f4cfc9" transform="rotate(-12 195.6 811.6)"/>
<ellipse cx="150.1" cy="794.4" rx="1.7" ry="3.1" fill="#b31f1e" transform="rotate(-12 150.1 794.4)"/>
<ellipse cx="150.8" cy="794.9" rx="0.7" ry="1.9" fill="#f4cfc9" transform="rotate(-12 150.1 794.4)"/>
<ellipse cx="159.2" cy="802.7" rx="1.7" ry="3.1" fill="#b31f1e" transform="rotate(-12 159.2 802.7)"/>
<ellipse cx="159.9" cy="803.2" rx="0.7" ry="1.9" fill="#f4cfc9" transform="rotate(-12 159.2 802.7)"/>
<ellipse cx="168.3" cy="811" rx="1.7" ry="3.1" fill="#b31f1e" transform="rotate(-12 168.3 811)"/>
<ellipse cx="169" cy="811.5" rx="0.7" ry="1.9" fill="#f4cfc9" transform="rotate(-12 168.3 811)"/>
<ellipse cx="177.4" cy="819.4" rx="1.7" ry="3.1" fill="#b31f1e" transform="rotate(-12 177.4 819.4)"/>
<ellipse cx="178.1" cy="819.9" rx="0.7" ry="1.9" fill="#f4cfc9" transform="rotate(-12 177.4 819.4)"/>
<ellipse cx="186.5" cy="827.8" rx="1.7" ry="3.1" fill="#b31f1e" transform="rotate(-12 186.5 827.8)"/>
<ellipse cx="187.2" cy="828.2" rx="0.7" ry="1.9" fill="#f4cfc9" transform="rotate(-12 186.5 827.8)"/>
<ellipse cx="195.6" cy="836.1" rx="1.7" ry="3.1" fill="#b31f1e" transform="rotate(-12 195.6 836.1)"/>
<ellipse cx="196.3" cy="836.6" rx="0.7" ry="1.9" fill="#f4cfc9" transform="rotate(-12 195.6 836.1)"/>
<ellipse cx="150.1" cy="818.9" rx="1.7" ry="3.1" fill="#b31f1e" transform="rotate(-12 150.1 818.9)"/>
<ellipse cx="150.8" cy="819.4" rx="0.7" ry="1.9" fill="#f4cfc9" transform="rotate(-12 150.1 818.9)"/>
<ellipse cx="159.2" cy="827.2" rx="1.7" ry="3.1" fill="#b31f1e" transform="rotate(-12 159.2 827.2)"/>
<ellipse cx="159.9" cy="827.7" rx="0.7" ry="1.9" fill="#f4cfc9" transform="rotate(-12 159.2 827.2)"/>
<ellipse cx="168.3" cy="835.5" rx="1.7" ry="3.1" fill="#b31f1e" transform="rotate(-12 168.3 835.5)"/>
<ellipse cx="169" cy="836" rx="0.7" ry="1.9" fill="#f4cfc9" transform="rotate(-12 168.3 835.5)"/>
<ellipse cx="177.4" cy="843.9" rx="1.7" ry="3.1" fill="#b31f1e" transform="rotate(-12 177.4 843.9)"/>
<ellipse cx="178.1" cy="844.4" rx="0.7" ry="1.9" fill="#f4cfc9" transform="rotate(-12 177.4 843.9)"/>
<ellipse cx="186.5" cy="852.2" rx="1.7" ry="3.1" fill="#b31f1e" transform="rotate(-12 186.5 852.2)"/>
<ellipse cx="187.2" cy="852.8" rx="0.7" ry="1.9" fill="#f4cfc9" transform="rotate(-12 186.5 852.2)"/>
<ellipse cx="195.6" cy="860.6" rx="1.7" ry="3.1" fill="#b31f1e" transform="rotate(-12 195.6 860.6)"/>
<ellipse cx="196.3" cy="861.1" rx="0.7" ry="1.9" fill="#f4cfc9" transform="rotate(-12 195.6 860.6)"/>
<ellipse cx="150.1" cy="843.4" rx="1.7" ry="3.1" fill="#b31f1e" transform="rotate(-12 150.1 843.4)"/>
<ellipse cx="150.8" cy="843.9" rx="0.7" ry="1.9" fill="#f4cfc9" transform="rotate(-12 150.1 843.4)"/>
<ellipse cx="159.2" cy="851.7" rx="1.7" ry="3.1" fill="#b31f1e" transform="rotate(-12 159.2 851.7)"/>
<ellipse cx="159.9" cy="852.2" rx="0.7" ry="1.9" fill="#f4cfc9" transform="rotate(-12 159.2 851.7)"/>
<ellipse cx="168.3" cy="860" rx="1.7" ry="3.1" fill="#b31f1e" transform="rotate(-12 168.3 860)"/>
<ellipse cx="169" cy="860.5" rx="0.7" ry="1.9" fill="#f4cfc9" transform="rotate(-12 168.3 860)"/>
<ellipse cx="177.4" cy="868.4" rx="1.7" ry="3.1" fill="#b31f1e" transform="rotate(-12 177.4 868.4)"/>
<ellipse cx="178.1" cy="868.9" rx="0.7" ry="1.9" fill="#f4cfc9" transform="rotate(-12 177.4 868.4)"/>
<ellipse cx="186.5" cy="876.8" rx="1.7" ry="3.1" fill="#b31f1e" transform="rotate(-12 186.5 876.8)"/>
<ellipse cx="187.2" cy="877.2" rx="0.7" ry="1.9" fill="#f4cfc9" transform="rotate(-12 186.5 876.8)"/>
<ellipse cx="195.6" cy="885.1" rx="1.7" ry="3.1" fill="#b31f1e" transform="rotate(-12 195.6 885.1)"/>
<ellipse cx="196.3" cy="885.6" rx="0.7" ry="1.9" fill="#f4cfc9" transform="rotate(-12 195.6 885.1)"/>
<ellipse cx="139.5" cy="599" rx="3.06" ry="4.14" fill="#151515"/>
<ellipse cx="195.5" cy="645" rx="3.57" ry="4.83" fill="#151515"/>
<ellipse cx="143.5" cy="719" rx="3.57" ry="4.83" fill="#151515"/>
<ellipse cx="198.8" cy="769" rx="3.9099999999999997" ry="5.289999999999999" fill="#151515"/>
<ellipse cx="146.5" cy="834" rx="3.655" ry="4.944999999999999" fill="#151515"/>
<ellipse cx="201.5" cy="885" rx="3.9099999999999997" ry="5.289999999999999" fill="#151515"/>
<polygon points="115,636.5 133,633 200,687 176.5,690.5" fill="#de2d2b" />
<polygon points="115,636.5 176.5,690.5 177,693 115.3,639" fill="#b81a19" />
<ellipse cx="130.5" cy="638.8" rx="6.3" ry="3.1" fill="#f3d4d0" transform="rotate(8 130.5 638.8)"/>
<ellipse cx="150" cy="656.5" rx="3.1" ry="1.9" fill="#fbefec" transform="rotate(15 150 656.5)"/>
<ellipse cx="156.8" cy="661.8" rx="3.1" ry="1.9" fill="#fbefec" transform="rotate(15 156.8 661.8)"/>
<ellipse cx="164" cy="667.6" rx="3.1" ry="1.9" fill="#fbefec" transform="rotate(15 164 667.6)"/>
<ellipse cx="171" cy="673.4" rx="3.1" ry="1.9" fill="#fbefec" transform="rotate(15 171 673.4)"/>
<ellipse cx="177.7" cy="679" rx="3.1" ry="1.9" fill="#fbefec" transform="rotate(15 177.7 679)"/>
<ellipse cx="184.5" cy="684.8" rx="3.1" ry="1.9" fill="#fbefec" transform="rotate(15 184.5 684.8)"/>
<polygon points="116,677 134,673.5 201,728 201,736.5 184,738.5 117,690" fill="#c41d1c" />
<polygon points="116,677 134,673.5 201,728 183,730" fill="#de2d2b" />
<polygon points="183,730 201,728 201,736.5 184,738.5" fill="#e3211d" />
<ellipse cx="131" cy="679.3" rx="6.3" ry="3.1" fill="#f3d4d0" transform="rotate(8 131 679.3)"/>
<ellipse cx="147" cy="690.5" rx="3.3" ry="2" fill="#a81615" transform="rotate(15 147 690.5)"/>
<ellipse cx="154" cy="696.5" rx="3.3" ry="2" fill="#a81615" transform="rotate(15 154 696.5)"/>
<ellipse cx="161" cy="702.5" rx="3.3" ry="2" fill="#a81615" transform="rotate(15 161 702.5)"/>
<ellipse cx="168" cy="708.3" rx="3.3" ry="2" fill="#a81615" transform="rotate(15 168 708.3)"/>
<ellipse cx="175" cy="714.2" rx="3.3" ry="2" fill="#a81615" transform="rotate(15 175 714.2)"/>
<polygon points="123,888 143,886 210,945 191,947.5" fill="#e03533" />
<polygon points="123,888 191,947.5 212,949 213,983 143,916 142,909" fill="#d83431" />
<ellipse cx="136.8" cy="892" rx="5.5" ry="2.8" fill="#f3d4d0" transform="rotate(8 136.8 892)"/>
<path d="M143.4,898.3 Q146,895.5 148.8,899.7" stroke="#b01b1a" stroke-width="1.5" fill="none"/>
<path d="M149,903.2 Q151.6,900.4 154.4,904.6" stroke="#b01b1a" stroke-width="1.5" fill="none"/>
<path d="M154.6,908.1 Q157.2,905.3 160,909.5" stroke="#b01b1a" stroke-width="1.5" fill="none"/>
<path d="M160.2,913 Q162.8,910.2 165.6,914.4" stroke="#b01b1a" stroke-width="1.5" fill="none"/>
<path d="M165.8,917.9 Q168.4,915.1 171.2,919.3" stroke="#b01b1a" stroke-width="1.5" fill="none"/>
<path d="M171.4,922.8 Q174,920 176.8,924.2" stroke="#b01b1a" stroke-width="1.5" fill="none"/>
<path d="M177,927.7 Q179.6,924.9 182.4,929.1" stroke="#b01b1a" stroke-width="1.5" fill="none"/>
<path d="M182.6,932.6 Q185.2,929.8 188,934" stroke="#b01b1a" stroke-width="1.5" fill="none"/>
<path d="M188.2,937.5 Q190.8,934.7 193.6,938.9" stroke="#b01b1a" stroke-width="1.5" fill="none"/>
<ellipse cx="200.5" cy="957" rx="1.4" ry="2.6" fill="#b31f1e"/>
<ellipse cx="208.5" cy="967" rx="1.4" ry="2.6" fill="#b31f1e"/>
<rect x="157" y="933" width="4.5" height="3.5" fill="#1a1a1a"/><rect x="199" y="975" width="4.5" height="3" fill="#1a1a1a"/>
<g clip-path="url(#cL)">
<rect x="55" y="1120" width="275" height="275" fill="url(#gL)"/>
<polygon points="60,1310 91,1331 218,1378 260,1400 60,1400" fill="#dd2b2d" />
<polygon points="60,1335 98,1346 208,1376.5 240,1400 60,1400" fill="#d32224" />
<line x1="91" y1="1331" x2="218" y2="1378" stroke="#e84a48" stroke-width="1.5" stroke-linecap="butt" />
<ellipse cx="193" cy="1239" rx="106" ry="43" fill="#e03032"/>
<path d="M92,1226 Q120,1199 193,1197.5 Q262,1198 293,1224" fill="none" stroke="#ea5856" stroke-width="2.2" stroke-linecap="round" opacity="0.9"/>
<path d="M87.5,1243 Q100,1207 195,1206.5 Q287,1207 298.7,1240 Q292,1282 193,1282 Q95,1282 87.5,1243 Z" fill="#c12526" stroke="none" stroke-width="0" />
</g>
<circle cx="190.5" cy="1257" r="130" fill="none" stroke="#0a0a0a" stroke-width="2.6"/>
<line x1="102.8" y1="1248" x2="283.2" y2="1248" stroke="#0a0a0a" stroke-width="2.8" stroke-linecap="butt" stroke-dasharray="9.4 5.2"/>
<polygon points="93,1248 107,1242.4 103.1,1248 107,1253.6" fill="#0a0a0a" />
<polygon points="293,1248 279,1253.6 282.9,1248 279,1242.4" fill="#0a0a0a" />
<g clip-path="url(#cR)">
<rect x="1210" y="918" width="270" height="270" fill="url(#gRb)"/>
<polygon points="1238,980 1340,943 1344,939.5 1362,936 1376,942 1386,952 1446,1004 1420,1010 1370,992 1300,996 1255,1012 1225,1040 1210,1040 1210,990" fill="url(#gRt)" />
<polygon points="1376,931 1400,930 1480,1000 1480,1120 1446,1100 1446,1004 1386,952 1376,942" fill="#d6201b" />
<polygon points="1418,950 1445,975 1446,1004 1400,962" fill="#e23a35" />
<polygon points="1446,980 1480,1000 1480,1060 1460,1050 1446,1004" fill="#df5a55" />
<polygon points="1205,915 1380,915 1378,925 1376,931 1381,944 1376,942 1362,936 1344,939.5 1340,943 1238,980 1205,995" fill="#f9f9f7" />
<polygon points="1376,931 1380,915 1420,915 1400,930" fill="#d6201b" />
<ellipse cx="1336.7" cy="1047" rx="90.5" ry="51" fill="#e34a46"/>
<path d="M1247,1050 Q1252,1003 1337,1001 Q1420,1003 1427,1050 Q1420,1098 1337,1098 Q1254,1098 1247,1050 Z" fill="#e52f2b" stroke="none" stroke-width="0" />
<ellipse cx="1380" cy="1062" rx="24.5" ry="25.5" fill="#c93a35"/>
<ellipse cx="1381" cy="1063" rx="21" ry="23" fill="#b9322e"/>
<path d="M1388,1039 Q1362,1040 1357,1066 Q1358,1087 1376,1086 Q1386,1080 1388,1066 Z" fill="#f9f9f7" stroke="none" stroke-width="0" />
<polygon points="1300,1172 1448,1112 1452,1118 1490,1100 1490,1195 1290,1195" fill="#ec2b26" />
<line x1="1306" y1="1170" x2="1448" y2="1112.5" stroke="#f0524c" stroke-width="1.6" stroke-linecap="butt" />
</g>
<circle cx="1344" cy="1052" r="130.3" fill="none" stroke="#0a0a0a" stroke-width="2.6"/>
<line x1="1257.8" y1="1048.5" x2="1416.2" y2="1048.5" stroke="#0a0a0a" stroke-width="2.8" stroke-linecap="butt" stroke-dasharray="9.4 5.2"/>
<polygon points="1248,1048.5 1262,1042.9 1258.1,1048.5 1262,1054.1" fill="#0a0a0a" />
<polygon points="1426,1048.5 1412,1054.1 1415.9,1048.5 1412,1042.9" fill="#0a0a0a" />
<rect x="424" y="1174.5" width="550" height="15" rx="6" fill="#111"/>
<rect x="424" y="1176.5" width="556" height="3" fill="#2a2a2a"/>
<ellipse cx="425.5" cy="1182" rx="4.5" ry="7" fill="#4a4a4a"/>
<path d="M1001,1131.4 H957 Q948,1131.4 948,1140.4 V1221 Q948,1230 957,1230 H1003" fill="none" stroke="#141414" stroke-width="15.5" stroke-linecap="round" stroke-linejoin="round"/>
<rect x="955" y="1174.5" width="25.5" height="15" rx="7.5" fill="#0d0d0d"/>
<circle cx="1002" cy="1131.4" r="8" fill="#0c0c0c"/><circle cx="1004" cy="1230" r="8" fill="#0c0c0c"/>
<ellipse cx="995" cy="1131.4" rx="2.5" ry="7.6" fill="#2e2e2e"/><ellipse cx="997" cy="1230" rx="2.5" ry="7.6" fill="#2e2e2e"/>
</svg>
</body></html>
